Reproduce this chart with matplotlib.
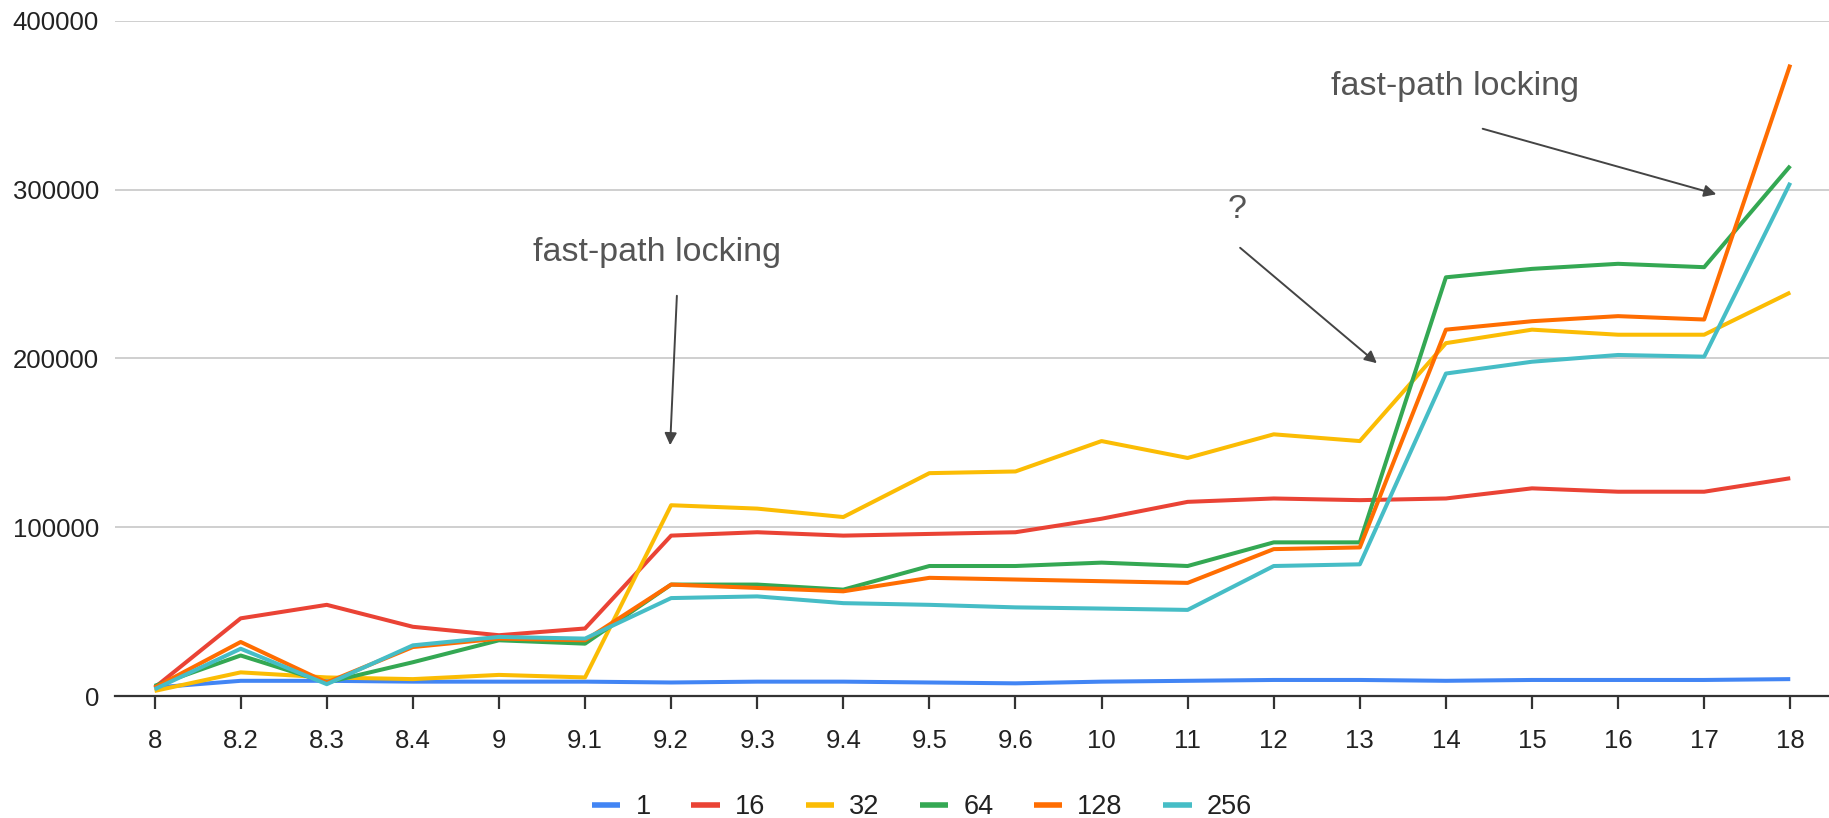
import matplotlib
matplotlib.use("Agg")
import matplotlib.pyplot as plt
from matplotlib.lines import Line2D

plt.rcParams['font.family'] = ['Liberation Sans', 'DejaVu Sans']

versions = ["8", "8.2", "8.3", "8.4", "9", "9.1", "9.2", "9.3", "9.4", "9.5",
            "9.6", "10", "11", "12", "13", "14", "15", "16", "17", "18"]

s1 = [5000, 9000, 9000, 8500, 8500, 8500, 8000, 8500, 8500, 8000,
      7500, 8500, 9000, 9500, 9500, 9000, 9500, 9500, 9500, 10000]
s16 = [5000, 46000, 54000, 41000, 36000, 40000, 95000, 97000, 95000, 96000,
       97000, 105000, 115000, 117000, 116000, 117000, 123000, 121000, 121000, 129000]
s32 = [3000, 14000, 11000, 10000, 12500, 11000, 113000, 111000, 106000, 132000,
       133000, 151000, 141000, 155000, 151000, 209000, 217000, 214000, 214000, 239000]
s64 = [6000, 24000, 8000, 20000, 33000, 31000, 66000, 66000, 63000, 77000,
       77000, 79000, 77000, 91000, 91000, 248000, 253000, 256000, 254000, 314000]
s128 = [5000, 32000, 8000, 29000, 34000, 33000, 66000, 64000, 62000, 70000,
        69000, 68000, 67000, 87000, 88000, 217000, 222000, 225000, 223000, 374000]
s256 = [4000, 28000, 7000, 30000, 35000, 34000, 58000, 59000, 55000, 54000,
        52500, 51800, 51000, 77000, 78000, 191000, 198000, 202000, 201000, 304000]

series_names = ["1", "16", "32", "64", "128", "256"]
series_values = [s1, s16, s32, s64, s128, s256]
colors = ["#4285F4", "#EA4335", "#FBBC04", "#34A853", "#FF6D01", "#46BDC6"]

W, H = 1829, 818
fig = plt.figure(figsize=(W / 100, H / 100), dpi=100)
ax = fig.add_axes([115 / W, 122 / H, (W - 115) / W, (797.3 - 122) / H])

x = list(range(len(versions)))
for name, vals, c in zip(series_names, series_values, colors):
    ax.plot(x, vals, color=c, lw=2.9, label=name, solid_joinstyle='round',
            solid_capstyle='butt', zorder=3)

ax.set_xlim(-0.46, 19.45)
ax.set_ylim(0, 400000)
ax.set_xticks(x)
ax.set_xticklabels(versions)
ax.set_yticks([0, 100000, 200000, 300000, 400000])
ax.set_yticklabels(["0", "100000", "200000", "300000", "400000"])
ax.grid(axis='y', color='#cccccc', lw=1.3, zorder=0)
ax.set_axisbelow(True)
for sp in ['top', 'right', 'left']:
    ax.spines[sp].set_visible(False)
ax.spines['bottom'].set_color('#333333')
ax.spines['bottom'].set_linewidth(1.6)
ax.tick_params(axis='x', direction='out', length=9.5, width=1.6, color='#333333',
               labelsize=18.5, labelcolor='#222222', pad=14)
ax.tick_params(axis='y', length=0, labelsize=18.5, labelcolor='#222222', pad=11.5)

handles = [Line2D([0], [0], color=c, lw=4, solid_capstyle='butt') for c in colors]
fig.legend(handles, series_names, loc='center', bbox_to_anchor=(922 / W, 1 - 807 / H),
           ncol=6, frameon=False, fontsize=19.5, handlelength=1.05, handletextpad=0.55,
           columnspacing=1.5, labelcolor='#222222')

ann_color = '#555555'
arrow_kw = dict(arrowstyle='-|>', color='#444444', lw=1.4, mutation_scale=18)

def fp(px, py):
    return (px, H - py)

ax.annotate("fast-path locking", xy=fp(657, 253), xycoords='figure pixels',
            ha='center', va='center', fontsize=24.5, color=ann_color)
ax.annotate("", xy=fp(670, 448), xytext=fp(677, 293), xycoords='figure pixels',
            textcoords='figure pixels', arrowprops=arrow_kw)
ax.annotate("?", xy=fp(1237, 209), xycoords='figure pixels',
            ha='center', va='center', fontsize=24.5, color=ann_color)
ax.annotate("", xy=fp(1379, 365), xytext=fp(1238, 246), xycoords='figure pixels',
            textcoords='figure pixels', arrowprops=arrow_kw)
ax.annotate("fast-path locking", xy=fp(1455, 87), xycoords='figure pixels',
            ha='center', va='center', fontsize=24.5, color=ann_color)
ax.annotate("", xy=fp(1719, 195), xytext=fp(1480, 128), xycoords='figure pixels',
            textcoords='figure pixels', arrowprops=arrow_kw)

fig.savefig("out.png", dpi=100)
